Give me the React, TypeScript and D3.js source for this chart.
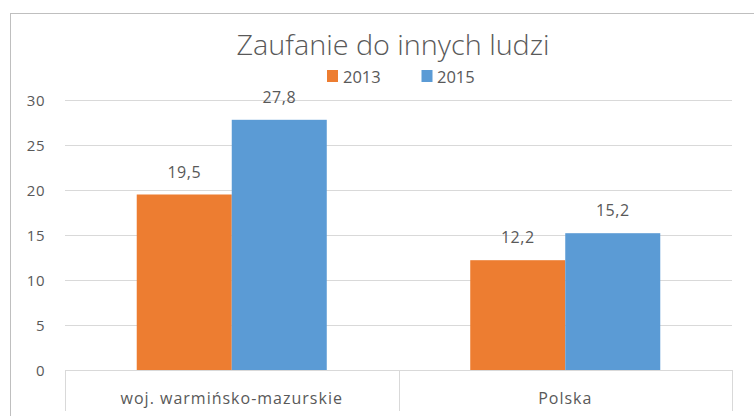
import React from "react";
import * as d3 from "d3";

const categories = ["woj. warmińsko-mazurskie", "Polska"];
const seriesNames = ["2013", "2015"];
const values2013 = [19.5, 12.2];
const values2015 = [27.8, 15.2];
const yTicks = [0, 5, 10, 15, 20, 25, 30];
const title = "Zaufanie do innych ludzi";

const colors = ["#ED7D31", "#5B9BD5"];
const W = 754;
const H = 416;
const FONT = "'Open Sans', 'Noto Sans', sans-serif";
const TEXT = "#595959";
const GRID = "#D9D9D9";

export default function App() {
  const seriesValues = [values2013, values2015];
  const x0 = d3.scaleBand<string>().domain(categories).range([65, 732]).paddingInner(0).paddingOuter(0);
  const x1 = d3.scaleBand<string>().domain(seriesNames).range([0, x0.bandwidth()]).paddingInner(0).paddingOuter(0.755);
  const y = d3.scaleLinear().domain([0, 30]).range([370, 100]);
  const fmt = (v: number) => v.toFixed(1).replace(".", ",");

  const boundaries = [...categories.map((c) => x0(c)!), x0.range()[1]];

  return (
    <svg width={W} height={H} style={{ position: "absolute", left: 0, top: 0, background: "#fff" }}>
      <rect x={0} y={0} width={W} height={H} fill="#fff" />
      {/* chart frame */}
      <rect x={10.5} y={13.5} width={W + 20} height={H + 20} fill="#fff" stroke="#BFBFBF" strokeWidth={1} />
      {/* title */}
      <text x={393} y={55} textAnchor="middle" fontFamily={FONT} fontWeight={300} fontSize={28} fill={TEXT}
        textLength={313} lengthAdjust="spacingAndGlyphs">
        {title}
      </text>
      {/* legend */}
      {[{ sx: 327, tx: 343 }, { sx: 421.5, tx: 437 }].map((p, i) => (
        <g key={seriesNames[i]}>
          <rect x={p.sx} y={70} width={11} height={12} fill={colors[i]} />
          <text x={p.tx} y={82.5} fontFamily={FONT} fontSize={16.5} fill={TEXT}>{seriesNames[i]}</text>
        </g>
      ))}
      {/* gridlines */}
      {yTicks.map((t) => (
        <g key={t}>
          {t > 0 && <line x1={65} x2={732} y1={Math.round(y(t)) + 0.5} y2={Math.round(y(t)) + 0.5} stroke={GRID} strokeWidth={1} />}
          <text x={45} y={y(t) + 5.5} textAnchor="end" fontFamily={FONT} fontSize={15} fill={TEXT} letterSpacing={0.5}>{t}</text>
        </g>
      ))}
      {/* bars */}
      {categories.map((c, ci) => (
        <g key={c}>
          {seriesNames.map((s, si) => {
            const v = seriesValues[si][ci];
            const bx = x0(c)! + x1(s)!;
            return (
              <g key={s}>
                <rect x={bx} y={y(v)} width={x1.bandwidth()} height={y(0) - y(v)} fill={colors[si]} />
                <text x={bx + x1.bandwidth() / 2} y={y(v) - 17} textAnchor="middle" fontFamily={FONT} fontSize={16} fill={TEXT} letterSpacing={0.5}>
                  {fmt(v)}
                </text>
              </g>
            );
          })}
        </g>
      ))}
      {/* x axis */}
      <line x1={65} x2={732} y1={370.5} y2={370.5} stroke={GRID} strokeWidth={1} />
      {boundaries.map((b, i) => (
        <line key={i} x1={Math.round(b) + 0.5} x2={Math.round(b) + 0.5} y1={370} y2={411} stroke={GRID} strokeWidth={1} />
      ))}
      {categories.map((c) => (
        <text key={c} x={x0(c)! + x0.bandwidth() / 2} y={404} textAnchor="middle" fontFamily={FONT} fontSize={16} fill={TEXT} letterSpacing={1}>
          {c}
        </text>
      ))}
    </svg>
  );
}
